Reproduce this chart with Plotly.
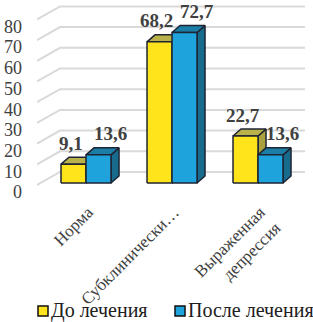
import plotly.graph_objects as go

categories = ["Норма", "Субклинически…", "Выраженная<br>депрессия"]
before = [9.1, 68.2, 22.7]
after = [13.6, 72.7, 13.6]
series_names = ["До лечения", "После лечения"]
y_ticks = [0, 10, 20, 30, 40, 50, 60, 70, 80]

# ---- layout geometry (pixels) ----
W, H = 313, 322
ML, MR, MT, MB = 37, 8, 2, 132
PX_X = 86.0                      # pixels per category
plot_w = W - ML - MR
plot_h = H - MT - MB
PX_Y = 2.07                      # pixels per value unit
y_max = (183 - MT) / PX_Y
y_min = y_max - plot_h / PX_Y
x_min = -0.57
x_max = x_min + plot_w / PX_X

bw = 25 / PX_X                   # bar front width
ddx = 8 / PX_X                   # depth offset x
ddy = 7 / PX_Y                   # depth offset y

FONT = "Liberation Serif"
YEL, YEL_TOP, YEL_SIDE = "#FFE41C", "#B9B14A", "#A9A23E"
BLU, BLU_TOP, BLU_SIDE = "#1EA3DC", "#1B7EA6", "#176C8E"
EDGE = "#1E2433"

fig = go.Figure()

# back-wall gridlines (with perspective slant)
gx, gy = [], []
wall_dy = 11 / PX_Y
for v in y_ticks:
    gx += [x_min, x_min + 23 / PX_X, x_max, None]
    gy += [v - 2 / PX_Y, v + wall_dy, v + wall_dy, None]
fig.add_trace(go.Scatter(x=gx, y=gy, mode="lines",
                         line=dict(color="#D9D9D9", width=2),
                         showlegend=False, hoverinfo="skip"))


def add_bars(values, offset, front, top, side):
    sx, sy, tx, ty, fx, fy = [], [], [], [], [], []
    for i, v in enumerate(values):
        xl = i + offset - bw / 2
        xr = i + offset + bw / 2
        sx += [xr, xr + ddx, xr + ddx, xr, xr, None]
        sy += [0, ddy, v + ddy, v, 0, None]
        tx += [xl, xl + ddx, xr + ddx, xr, xl, None]
        ty += [v, v + ddy, v + ddy, v, v, None]
        fx += [xl, xr, xr, xl, xl, None]
        fy += [0, 0, v, v, 0, None]
    for xs, ys, col in ((sx, sy, side), (tx, ty, top), (fx, fy, front)):
        fig.add_trace(go.Scatter(x=xs, y=ys, mode="lines", fill="toself",
                                 fillcolor=col,
                                 line=dict(color=EDGE, width=1.5),
                                 showlegend=False, hoverinfo="skip"))


add_bars(before, -bw / 2, YEL, YEL_TOP, YEL_SIDE)
add_bars(after, bw / 2, BLU, BLU_TOP, BLU_SIDE)

# data labels
annotations = []
for values, offset, shift in ((before, -bw / 2, -7), (after, bw / 2, 8)):
    for i, v in enumerate(values):
        annotations.append(dict(
            x=i + offset + ddx / 2, y=v + ddy, xref="x", yref="y",
            text="<b>" + f"{v:.1f}".replace(".", ",") + "</b>",
            showarrow=False, xshift=shift, yshift=14, yanchor="middle",
            font=dict(family=FONT, size=19, color="#404040")))

# legend (marker squares + text), placed below the plot in paper units
def py_to_paper_y(py):
    return (H - MB - py) / plot_h


def px_to_paper_x(px):
    return (px - ML) / plot_w


shapes = []
leg_y = 311
for name, col, mx in zip(series_names, (YEL, BLU), (43, 180)):
    shapes.append(dict(type="rect", xref="paper", yref="paper",
                       x0=px_to_paper_x(mx - 5), x1=px_to_paper_x(mx + 5),
                       y0=py_to_paper_y(leg_y + 5), y1=py_to_paper_y(leg_y - 5),
                       fillcolor=col, line=dict(color="#111111", width=1.5)))
    annotations.append(dict(x=px_to_paper_x(mx + 6), y=py_to_paper_y(leg_y - 1),
                            xref="paper", yref="paper", xanchor="left",
                            yanchor="middle", text=name, showarrow=False,
                            font=dict(family=FONT, size=20, color="#202020")))

fig.update_layout(
    width=W, height=H,
    margin=dict(l=ML, r=MR, t=MT, b=MB, autoexpand=False),
    paper_bgcolor="white", plot_bgcolor="white",
    annotations=annotations, shapes=shapes, showlegend=False,
    font=dict(family=FONT, color="#404040"),
    xaxis=dict(range=[x_min, x_max], tickvals=list(range(len(categories))),
               ticktext=categories, tickangle=-45, showgrid=False,
               zeroline=False, showline=False, ticks="",
               ticklabelstandoff=8, ticklabelshift=2,
               tickfont=dict(family=FONT, size=17, color="#404040")),
    yaxis=dict(range=[y_min, y_max], tickvals=y_ticks, showgrid=False,
               zeroline=False, showline=False, ticks="",
               ticklabelstandoff=14, ticklabelshift=9,
               tickfont=dict(family=FONT, size=18, color="#404040")),
)

fig.write_html("out.html")
